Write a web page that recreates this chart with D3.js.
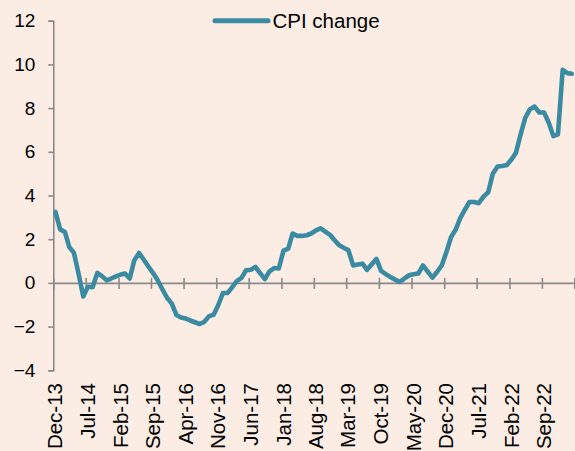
<!DOCTYPE html>
<html>
<head>
<meta charset="utf-8">
<script src="https://cdn.jsdelivr.net/npm/d3@7"></script>
<style>
  html, body { margin: 0; padding: 0; background: #FBEDE4; overflow: hidden; }
  svg { display: block; font-family: "Liberation Sans", Arial, sans-serif; }
</style>
</head>
<body>
<svg id="chart" width="575" height="451"></svg>
<script>
// ---- data ----
const startMonth = "Dec-13";
const seriesName = "CPI change";
const cpiValues = [
  3.25, 2.45, 2.33, 1.65, 1.37, 0.43, -0.62, -0.18, -0.2, 0.46, 0.31, 0.12,
  0.2, 0.3, 0.38, 0.43, 0.2, 1.04, 1.37, 1.07, 0.75, 0.45, 0.12, -0.3,
  -0.68, -0.95, -1.47, -1.58, -1.63, -1.72, -1.8, -1.88, -1.78, -1.52, -1.46, -1.0,
  -0.46, -0.46, -0.18, 0.08, 0.23, 0.58, 0.6, 0.73, 0.45, 0.17, 0.53, 0.68,
  0.66, 1.48, 1.57, 2.26, 2.15, 2.15, 2.18, 2.26, 2.4, 2.5, 2.35, 2.2,
  1.95, 1.72, 1.6, 1.5, 0.8, 0.84, 0.88, 0.6, 0.85, 1.1, 0.55, 0.4,
  0.27, 0.15, 0.05, 0.2, 0.35, 0.4, 0.43, 0.8, 0.52, 0.24, 0.5, 0.8,
  1.4, 2.1, 2.45, 2.95, 3.35, 3.7, 3.7, 3.65, 3.95, 4.15, 5.0, 5.33,
  5.35, 5.4, 5.66, 5.95, 6.8, 7.55, 7.95, 8.07, 7.8, 7.8, 7.35, 6.72,
  6.8, 9.75, 9.6, 9.57
];
const xTickLabels = ["Dec-13","Jul-14","Feb-15","Sep-15","Apr-16","Nov-16","Jun-17","Jan-18",
  "Aug-18","Mar-19","Oct-19","May-20","Dec-20","Jul-21","Feb-22","Sep-22","Apr-23"];
const xTickShown = ["Dec-13","Jul-14","Feb-15","Sep-15","Apr-16","Nov-16","Jun-17","Jan-18",
  "Aug-18","Mar-19","Oct-19","May-20","Dec-20","Jul-21","Feb-22","Sep-22"];
const yTicks = [-4, -2, 0, 2, 4, 6, 8, 10, 12];

// ---- setup ----
const W = 575, H = 451;
const parse = d3.utcParse("%b-%y");
const fmt = d3.utcFormat("%b-%y");
const start = parse(startMonth);
const data = cpiValues.map((v, i) => ({
  date: new Date(Date.UTC(start.getUTCFullYear(), start.getUTCMonth() + i, 15)),
  value: v
}));
const tickDates = xTickLabels.map(parse);

const x = d3.scaleUtc()
  .domain([tickDates[0], tickDates[tickDates.length - 1]])
  .range([53.3, 574.3]);
const y = d3.scaleLinear().domain([-4, 12]).range([370.3, 20.7]);

const svg = d3.select("#chart");
svg.append("rect").attr("width", W).attr("height", H).attr("fill", "#FBEDE4");

const axisColor = "#8a8a8a";

// y axis
const yAxis = svg.append("g")
  .attr("transform", "translate(53.3,0)")
  .call(d3.axisLeft(y).tickValues(yTicks).tickSize(5).tickSizeOuter(5).tickPadding(13).tickFormat(d3.format("d")));
yAxis.selectAll("path, line").attr("stroke", axisColor).attr("stroke-width", 1.6);
yAxis.selectAll("text").attr("font-size", 19).attr("fill", "#000")
  .attr("font-family", "Liberation Sans, Arial, sans-serif");

// x axis at zero
const xAxis = svg.append("g")
  .attr("transform", `translate(0,${y(0)})`)
  .call(d3.axisBottom(x).tickValues(tickDates).tickSize(6).tickSizeOuter(0).tickFormat(""));
xAxis.select(".domain").attr("stroke", axisColor).attr("stroke-width", 1.6)
  .attr("d", `M${x.range()[0]},0.5H${W}`);
xAxis.selectAll(".tick line").attr("stroke", axisColor).attr("stroke-width", 1.6)
  .attr("y1", -5).attr("y2", 6);

// x labels (rotated)
const shownDates = xTickShown.map(parse);
svg.append("g").selectAll("text")
  .data(shownDates)
  .join("text")
  .attr("transform", d => `translate(${x(d) + 2},383) rotate(-90)`)
  .attr("text-anchor", "end")
  .attr("dy", "0.35em")
  .attr("font-size", 20.5)
  .attr("fill", "#000")
  .text(d => fmt(d));

// line
const line = d3.line().x(d => x(d.date)).y(d => y(d.value));
svg.append("path")
  .datum(data)
  .attr("fill", "none")
  .attr("stroke", "#3A8BA2")
  .attr("stroke-width", 4.6)
  .attr("stroke-linejoin", "round")
  .attr("stroke-linecap", "round")
  .attr("d", line);

// legend
const lg = svg.append("g");
lg.append("line").attr("x1", 215).attr("x2", 268).attr("y1", 20.7).attr("y2", 20.7)
  .attr("stroke", "#3A8BA2").attr("stroke-width", 5).attr("stroke-linecap", "round");
lg.append("text").attr("x", 272.5).attr("y", 27.8).attr("font-size", 20.5).attr("fill", "#000")
  .text(seriesName);
</script>
</body>
</html>
